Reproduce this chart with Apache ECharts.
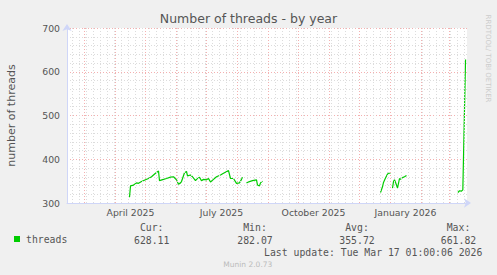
<!DOCTYPE html>
<html><head><meta charset="utf-8">
<script src="https://cdn.jsdelivr.net/npm/echarts@6/dist/echarts.min.js"></script>
<style>html,body{margin:0;padding:0;background:#f0f0f0;}#c{width:497px;height:275px;}</style>
</head><body><div id="c"></div>
<script>
// ---- data ----
const seg1Dates = ['2025-04-15','2025-04-16','2025-04-19','2025-04-22','2025-04-24','2025-04-27','2025-05-01','2025-05-04','2025-05-07','2025-05-11','2025-05-14','2025-05-15','2025-05-19','2025-05-22','2025-05-26','2025-05-29','2025-06-01','2025-06-03','2025-06-05','2025-06-06','2025-06-09','2025-06-11','2025-06-12','2025-06-15','2025-06-17','2025-06-20','2025-06-21','2025-06-24','2025-06-26','2025-06-28','2025-07-01','2025-07-03','2025-07-05','2025-07-08','2025-07-11','2025-07-15','2025-07-18','2025-07-23','2025-07-25','2025-07-28','2025-07-31','2025-08-03','2025-08-05','2025-08-06'];
const seg1Values = [313,339,341,346,345,349,353,356,360,368,373,351,354,356,359,360,353,343,346,349,369,372,362,364,360,351,354,359,351,354,353,356,348,354,360,364,368,374,356,356,345,346,354,359];
const seg2Dates = ['2025-08-10','2025-08-13','2025-08-16','2025-08-20','2025-08-21','2025-08-23','2025-08-24','2025-08-26'];
const seg2Values = [346,349,351,353,341,339,346,350];
const seg3Dates = ['2025-12-22','2025-12-24','2025-12-25','2025-12-27','2025-12-29','2025-12-30','2026-01-01'];
const seg3Values = [324,337,347,357,366,368,368];
const seg4Dates = ['2026-01-03','2026-01-04','2026-01-05','2026-01-07','2026-01-08','2026-01-10','2026-01-11','2026-01-13','2026-01-15','2026-01-17'];
const seg4Values = [334,349,353,341,334,356,354,358,360,363];
const seg5Dates = ['2026-03-09 10:00','2026-03-11 00:00','2026-03-12 18:00','2026-03-14 08:00','2026-03-17 01:00'];
const seg5Values = [324,328,327,330,628];

const xLabelDates = ['2025-04-16','2025-07-16','2025-10-16','2026-01-16'];
const xLabelTexts = ['April 2025','July 2025','October 2025','January 2026'];
const yTicks = [300,400,500,600,700];

const seriesName = 'threads';
const statLabels = ['Cur:','Min:','Avg:','Max:'];
const statValues = ['628.11','282.07','355.72','661.82'];
const lastUpdate = 'Last update: Tue Mar 17 01:00:06 2026';
const titleText = 'Number of threads - by year';
const yTitle = 'number of threads';
const watermark = 'RRDTOOL/ TOBI OETIKER';
const footer = 'Munin 2.0.73';

// ---- helpers ----
function ts(s){
  const [d,t] = s.split(' ');
  const [Y,M,D] = d.split('-').map(Number);
  const [h,m] = (t||'00:00').split(':').map(Number);
  return Date.UTC(Y,M-1,D,h,m);
}
const xMin = ts('2025-02-11 12:00');
const xMax = ts('2026-03-18 12:00');

const segs = [[seg1Dates,seg1Values],[seg2Dates,seg2Values],[seg3Dates,seg3Values],[seg4Dates,seg4Values],[seg5Dates,seg5Values]];
const lineData = [];
segs.forEach(([ds,vs],i)=>{
  if(i>0){ lineData.push([ (ts(ds[0]) + lineData[lineData.length-1][0])/2, '-' ]); }
  ds.forEach((d,j)=>lineData.push([ts(d), vs[j]]));
});

// grid lines: weekly (Mondays) minor, monthly major
const minorLines = [];
for(let t = ts('2025-02-17'); t < xMax; t += 7*86400000){ minorLines.push({xAxis:t}); }
const majorLines = [];
for(let y=2025, m=2; ; ){
  const t = Date.UTC(y,m,1);
  if(t > xMax) break;
  if(t > xMin) majorLines.push({xAxis:t});
  m++; if(m>11){m=0;y++;}
}

const labelTs = xLabelDates.map(d=>ts(d));
const FONT = 'DejaVu Sans';
const MONO = 'DejaVu Sans Mono';
const TXT = '#555';
const AX = '#CFD6F8';
const MINOR = '#dcdcdc';
const MAJOR = '#f4b0b0';

function txt(x,y,text,size,family,fill,align,rot){
  const el = {type:'text', x:x, y:y, style:{text:text, fontSize:size, fontFamily:family, fill:fill,
    align:align, verticalAlign:'middle', textAlign:align, textVerticalAlign:'middle'}};
  if(rot) el.rotation = rot;
  return el;
}
const statX = [151.7, 255, 357, 458.5];
const graphic = [
  txt(11.5,115.5,yTitle,11,FONT,TXT,'center',Math.PI/2),
  txt(487.5,58.5,watermark,7,FONT,'#cccccc','center',-Math.PI/2),
  txt(482.3,252,lastUpdate,9.8,MONO,TXT,'right'),
  txt(247.8,264,footer,7.5,FONT,'#bbbbbb','center')
];
statLabels.forEach((l,i)=>{
  graphic.push(txt(statX[i],227.3,l,9.8,MONO,TXT,'center'));
  graphic.push(txt(statX[i],240,statValues[i],9.8,MONO,TXT,'center'));
});

const chart = echarts.init(document.getElementById('c'), null, {renderer:'svg', width:497, height:275});
chart.setOption({
  animation:false,
  backgroundColor:'#f0f0f0',
  title:{text:titleText, left:'center', top:12, padding:0, textStyle:{fontFamily:FONT, fontSize:12.5, fontWeight:'normal', color:TXT}},
  legend:{data:[seriesName], left:14, top:234, padding:0, icon:'rect', itemWidth:6, itemHeight:6, itemGap:0, textStyle:{fontFamily:MONO, fontSize:9.8, color:TXT, padding:[0,0,0,1]}},
  grid:{left:67, top:28, width:400, height:175, show:true, backgroundColor:'#ffffff', borderWidth:0},
  xAxis:{type:'value', min:xMin, max:xMax,
    axisLine:{show:true, onZero:false, lineStyle:{color:AX, width:1}, symbol:['none','arrow'], symbolSize:[7,7], symbolOffset:[0,4]},
    axisTick:{show:false}, splitLine:{show:false},
    axisLabel:{customValues:labelTs, showMinLabel:true, showMaxLabel:true, margin:5, color:TXT, fontFamily:FONT, fontSize:9.3,
      formatter:(v)=>{const i=labelTs.indexOf(v); return i>=0?xLabelTexts[i]:'';}}
  },
  yAxis:{type:'value', min:yTicks[0], max:yTicks[yTicks.length-1], interval:100,
    axisLine:{show:true, lineStyle:{color:AX, width:1}, symbol:['none','arrow'], symbolSize:[7,7], symbolOffset:[0,4]},
    axisTick:{show:false},
    axisLabel:{margin:7, color:TXT, fontFamily:FONT, fontSize:9.3},
    splitLine:{show:true, lineStyle:{color:MAJOR, width:1, type:[1,2]}},
    minorTick:{show:false, splitNumber:5},
    minorSplitLine:{show:true, lineStyle:{color:MINOR, width:1, type:[1,2]}}
  },
  graphic:graphic,
  series:[
    {type:'line', name:'grid-minor', data:[], silent:true, z:1, legendHoverLink:false,
      markLine:{silent:true, symbol:['none','none'], label:{show:false}, animation:false,
        lineStyle:{color:MINOR, width:1, type:[1,2]}, emphasis:{disabled:true}, data:minorLines}},
    {type:'line', name:'grid-major', data:[], silent:true, z:1, legendHoverLink:false,
      markLine:{silent:true, symbol:['none','none'], label:{show:false}, animation:false,
        lineStyle:{color:MAJOR, width:1, type:[1,2]}, emphasis:{disabled:true}, data:majorLines}},
    {type:'line', name:seriesName, data:lineData, showSymbol:false, symbol:'none', connectNulls:false, z:3,
      itemStyle:{color:'#00cc00'}, lineStyle:{color:'#00cc00', width:1.2}}
  ]
});
</script>
</body></html>
